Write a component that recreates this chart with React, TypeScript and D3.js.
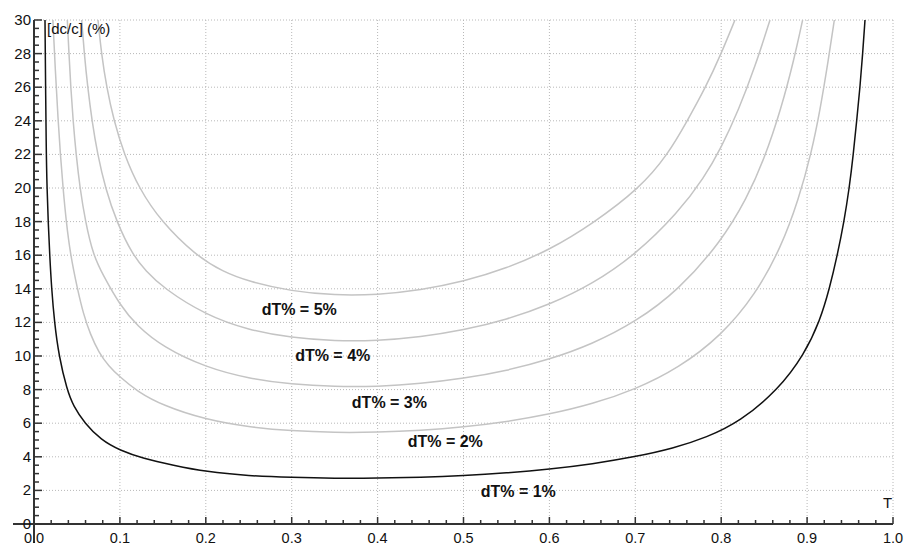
import React from "react";
import * as d3 from "d3";

const W = 906;
const H = 543;

// Curves: T (transmittance) and relative error dc/c (%)
const t1 = [0.0128, 0.0142, 0.0152, 0.0165, 0.0183, 0.0205, 0.0238, 0.029, 0.0383, 0.046, 0.059, 0.078, 0.1, 0.127, 0.162, 0.2, 0.25, 0.3, 0.35, 0.4, 0.45, 0.5, 0.55, 0.6, 0.65, 0.7, 0.744, 0.783, 0.822, 0.8665, 0.8968, 0.915, 0.926, 0.9352, 0.943, 0.9491, 0.9538, 0.9577, 0.9616, 0.9647, 0.9674];
const y1 = [30, 22, 20, 18, 16, 14, 12, 10, 8, 7, 6, 5, 4.38, 3.9, 3.5, 3.11, 2.86, 2.77, 2.72, 2.73, 2.78, 2.88, 3.04, 3.26, 3.57, 4.0, 4.5, 5.15, 6.1, 8.0, 10.1, 12.1, 14.0, 16.0, 18.0, 20.0, 22.0, 24.0, 26.0, 28.0, 30.0];

const t2 = [0.022, 0.0248, 0.0281, 0.0307, 0.0338, 0.0375, 0.0425, 0.0505, 0.0575, 0.0655, 0.0755, 0.087, 0.1, 0.12, 0.15, 0.2, 0.25, 0.3, 0.35, 0.4, 0.45, 0.5, 0.55, 0.6, 0.65, 0.7, 0.75, 0.8, 0.84, 0.87, 0.89, 0.905, 0.915, 0.925, 0.9317];
const y2 = [30, 27, 24, 22, 20, 18, 16, 14, 12.5, 11.3, 10.2, 9.4, 8.75, 7.9, 7.05, 6.21, 5.77, 5.54, 5.44, 5.46, 5.57, 5.77, 6.08, 6.53, 7.14, 8.01, 9.27, 11.2, 13.66, 16.5, 19.3, 22.1, 24.6, 27.7, 30];

const t3 = [0.0388, 0.0407, 0.0428, 0.0455, 0.049, 0.0535, 0.0598, 0.069, 0.08, 0.1, 0.12, 0.15, 0.2, 0.25, 0.3, 0.35, 0.4, 0.45, 0.5, 0.55, 0.6, 0.65, 0.7, 0.75, 0.8, 0.83, 0.85, 0.87, 0.885, 0.8948];
const y3 = [30, 28, 26, 24, 22, 20, 18, 16, 14.85, 13.03, 11.79, 10.54, 9.32, 8.66, 8.31, 8.17, 8.18, 8.35, 8.66, 9.12, 9.79, 10.71, 12.02, 13.9, 16.81, 19.4, 21.7, 24.75, 27.7, 30];

const t4 = [0.0555, 0.0585, 0.0625, 0.0675, 0.074, 0.083, 0.096, 0.115, 0.13, 0.15, 0.2, 0.25, 0.3, 0.35, 0.4, 0.45, 0.5, 0.55, 0.6, 0.65, 0.7, 0.75, 0.78, 0.8, 0.82, 0.84, 0.8568];
const y4 = [30, 28, 26, 24, 22, 20, 18, 16, 15.08, 14.06, 12.43, 11.54, 11.08, 10.89, 10.91, 11.13, 11.54, 12.16, 13.05, 14.28, 16.02, 18.54, 20.6, 22.4, 24.6, 27.3, 30];

const t5 = [0.0745, 0.0785, 0.0845, 0.093, 0.105, 0.122, 0.148, 0.188, 0.22, 0.25, 0.3, 0.35, 0.4, 0.45, 0.5, 0.55, 0.6, 0.65, 0.7055, 0.738, 0.7605, 0.782, 0.8, 0.816];
const y5 = [30, 28, 26, 24, 22, 20, 18, 16, 15.01, 14.43, 13.85, 13.61, 13.64, 13.92, 14.43, 15.21, 16.31, 17.86, 20, 22, 24, 26, 28, 30];

const seriesNames = ["dT% = 1%", "dT% = 2%", "dT% = 3%", "dT% = 4%", "dT% = 5%"];
const seriesT = [t1, t2, t3, t4, t5];
const seriesY = [y1, y2, y3, y4, y5];
// label anchor positions in data units (T, dc/c)
const labelT = [0.52, 0.435, 0.37, 0.304, 0.265];
const labelY = [1.6, 4.6, 6.9, 9.7, 12.45];

const xTickLabels = ["0,0", "0,1", "0,2", "0,3", "0,4", "0,5", "0,6", "0,7", "0,8", "0,9", "1,0"];
const yTickLabels = ["0", "2", "4", "6", "8", "10", "12", "14", "16", "18", "20", "22", "24", "26", "28", "30"];

export default function App() {
  const x = d3.scaleLinear().domain([0, 1]).range([34, 893]);
  const y = d3.scaleLinear().domain([0, 30]).range([524, 20]);

  const line = d3
    .line<[number, number]>()
    .x((d) => x(d[0]))
    .y((d) => y(d[1]))
    .curve(d3.curveBasis);

  const xMajor = d3.range(0, 11).map((i) => i / 10);
  const xMinor = d3.range(0, 51).map((i) => i / 50).filter((_, i) => i % 5 !== 0);
  const yMajor = d3.range(0, 16).map((i) => i * 2);
  const yMinor = d3.range(0, 61).map((i) => i / 2).filter((_, i) => i % 4 !== 0);

  const font = "Liberation Sans, Arial, sans-serif";
  const gridColor = "#b8b8b8";

  return (
    <svg
      width={W}
      height={H}
      style={{ position: "absolute", left: 0, top: 0, background: "#fff" }}
      fontFamily={font}
    >
      <rect x={0} y={0} width={W} height={H} fill="#fff" />
      {/* grid */}
      {xMajor.slice(1).map((v) => (
        <line key={"gx" + v} x1={x(v)} x2={x(v)} y1={y(30)} y2={y(0)} stroke={gridColor} strokeDasharray="1 2" />
      ))}
      {yMajor.slice(1).map((v) => (
        <line key={"gy" + v} x1={x(0)} x2={x(1)} y1={y(v)} y2={y(v)} stroke={gridColor} strokeDasharray="1 2" />
      ))}

      {/* curves */}
      <defs>
        <clipPath id="plotclip">
          <rect x={x(0)} y={y(30)} width={x(1) - x(0)} height={y(0) - y(30)} />
        </clipPath>
      </defs>
      <g clipPath="url(#plotclip)">
        {seriesT.map((ts, i) => {
          const pts = ts.map((t, j) => [t, seriesY[i][j]] as [number, number]);
          return (
            <path
              key={"c" + i}
              d={line(pts) || ""}
              fill="none"
              stroke={i === 0 ? "#111" : "#c4c4c4"}
              strokeWidth={i === 0 ? 1.5 : 1.5}
            />
          );
        })}
      </g>

      {/* curve labels */}
      {seriesNames.map((n, i) => (
        <text
          key={"l" + i}
          x={x(labelT[i])}
          y={y(labelY[i])}
          fontSize={16}
          fontWeight="bold"
          fill="#111"
        >
          {n}
        </text>
      ))}

      {/* axes */}
      <line x1={13} x2={x(1)} y1={y(0)} y2={y(0)} stroke="#333" strokeWidth={2} />
      <line x1={x(0)} x2={x(0)} y1={y(30)} y2={H} stroke="#333" strokeWidth={2} />
      {xMajor.map((v) => (
        <line key={"xt" + v} x1={x(v)} x2={x(v)} y1={y(0)} y2={y(0) - 7} stroke="#333" strokeWidth={1.5} />
      ))}
      {xMinor.map((v) => (
        <line key={"xm" + v} x1={x(v)} x2={x(v)} y1={y(0)} y2={y(0) - 4} stroke="#333" strokeWidth={1.5} />
      ))}
      {yMajor.map((v) => (
        <line key={"yt" + v} x1={x(0)} x2={x(0) + 8} y1={y(v)} y2={y(v)} stroke="#333" strokeWidth={1.5} />
      ))}
      {yMinor.map((v) => (
        <line key={"ym" + v} x1={x(0)} x2={x(0) + 5} y1={y(v)} y2={y(v)} stroke="#333" strokeWidth={1.5} />
      ))}

      {xTickLabels.map((s, i) => (
        <text key={"xl" + i} x={x(xMajor[i])} y={542.5} fontSize={14.5} textAnchor="middle" fill="#111">
          {s}
        </text>
      ))}
      {yTickLabels.map((s, i) => (
        <text key={"yl" + i} x={31} y={y(yMajor[i]) + 5} fontSize={15} textAnchor="end" fill="#111">
          {s}
        </text>
      ))}

      <text x={47} y={34} fontSize={15} fill="#111">
        [dc/c] (%)
      </text>
      <text x={883} y={508} fontSize={15} fill="#111">
        T
      </text>
    </svg>
  );
}
